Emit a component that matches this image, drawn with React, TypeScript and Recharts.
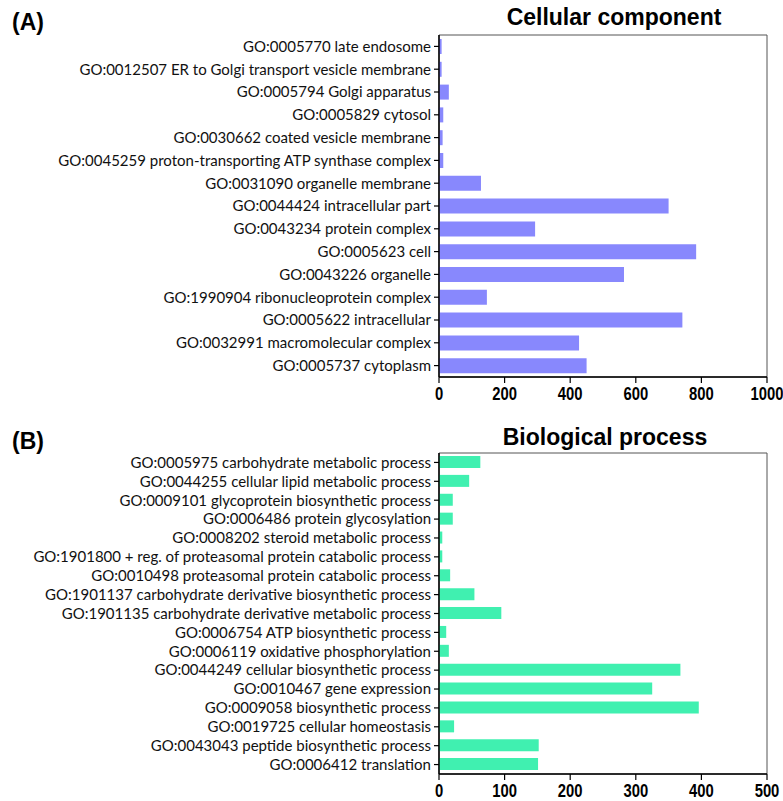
import React from "react";
import { BarChart, Bar, XAxis, YAxis, ReferenceArea } from "recharts";

const ccCategories = [
  "GO:0005770 late endosome",
  "GO:0012507 ER to Golgi transport vesicle membrane",
  "GO:0005794 Golgi apparatus",
  "GO:0005829 cytosol",
  "GO:0030662 coated vesicle membrane",
  "GO:0045259 proton-transporting ATP synthase complex",
  "GO:0031090 organelle membrane",
  "GO:0044424 intracellular part",
  "GO:0043234 protein complex",
  "GO:0005623 cell",
  "GO:0043226 organelle",
  "GO:1990904 ribonucleoprotein complex",
  "GO:0005622 intracellular",
  "GO:0032991 macromolecular complex",
  "GO:0005737 cytoplasm",
];
const ccValues = [8, 8, 30, 13, 11, 13, 128, 700, 293, 784, 564, 146, 742, 427, 450];
const ccTicks = [0, 200, 400, 600, 800, 1000];

const bpCategories = [
  "GO:0005975 carbohydrate metabolic process",
  "GO:0044255 cellular lipid metabolic process",
  "GO:0009101 glycoprotein biosynthetic process",
  "GO:0006486 protein glycosylation",
  "GO:0008202 steroid metabolic process",
  "GO:1901800 + reg. of proteasomal protein catabolic process",
  "GO:0010498 proteasomal protein catabolic process",
  "GO:1901137 carbohydrate derivative biosynthetic process",
  "GO:1901135 carbohydrate derivative metabolic process",
  "GO:0006754 ATP biosynthetic process",
  "GO:0006119 oxidative phosphorylation",
  "GO:0044249 cellular biosynthetic process",
  "GO:0010467 gene expression",
  "GO:0009058 biosynthetic process",
  "GO:0019725 cellular homeostasis",
  "GO:0043043 peptide biosynthetic process",
  "GO:0006412 translation",
];
const bpValues = [63, 46, 21, 21, 5, 5, 17, 54, 95, 11, 15, 368, 325, 396, 23, 152, 151];
const bpTicks = [0, 100, 200, 300, 400, 500];

const ccData = ccCategories.map((name, i) => ({ name, value: ccValues[i] }));
const bpData = bpCategories.map((name, i) => ({ name, value: bpValues[i] }));

const labelFont = "Lato, 'Open Sans', sans-serif";
const titleFont = "'Liberation Sans', Arial, sans-serif";

function NarrowTick(props: any) {
  const { x, y, payload } = props;
  return (
    <g transform={`translate(${x},${y})`}>
      <text
        x={0}
        y={0}
        dy={14}
        textAnchor="middle"
        transform="scale(0.78,1)"
        fill="#000"
        style={{ fontFamily: titleFont, fontWeight: 700, fontSize: 19 }}
      >
        {payload.value}
      </text>
    </g>
  );
}

function Panel({
  data,
  ticks,
  max,
  color,
  top,
  height,
  marginTop,
  barSize,
}: {
  data: { name: string; value: number }[];
  ticks: number[];
  max: number;
  color: string;
  top: number;
  height: number;
  marginTop: number;
  barSize: number;
}) {
  return (
    <div style={{ position: "absolute", left: 0, top, width: 783, height }}>
      <BarChart
        width={783}
        height={height}
        data={data}
        layout="vertical"
        margin={{ top: marginTop, right: 16, bottom: 0, left: 0 }}
      >
        <ReferenceArea
          x1={0}
          x2={max}
          fill="none"
          stroke="#555"
          strokeWidth={1}
          ifOverflow="visible"
        />
        <XAxis
          type="number"
          domain={[0, max]}
          ticks={ticks}
          interval={0}
          height={27}
          tickSize={6}
          tickMargin={3}
          axisLine={{ stroke: "#000", strokeWidth: 1.5 }}
          tickLine={{ stroke: "#000", strokeWidth: 1.2 }}
          tick={<NarrowTick />}
        />
        <YAxis
          type="category"
          dataKey="name"
          width={439}
          interval={0}
          tickSize={5}
          tickMargin={3}
          axisLine={{ stroke: "#000", strokeWidth: 1.5 }}
          tickLine={{ stroke: "#000", strokeWidth: 1.2 }}
          tick={{ fill: "#111", fontSize: 15, fontFamily: labelFont }}
        />
        <Bar dataKey="value" fill={color} barSize={barSize} isAnimationActive={false} />
      </BarChart>
    </div>
  );
}

export default function App() {
  return (
    <div
      style={{
        position: "absolute",
        left: 0,
        top: 0,
        width: 783,
        height: 801,
        background: "#fff",
        overflow: "hidden",
      }}
    >
      <div
        style={{
          position: "absolute",
          left: 12,
          top: 8,
          fontFamily: titleFont,
          fontWeight: 700,
          fontSize: 23,
          color: "#000",
          lineHeight: "28px",
        }}
      >
        (A)
      </div>
      <div
        style={{
          position: "absolute",
          left: 439,
          width: 350,
          top: 3,
          textAlign: "center",
          fontFamily: titleFont,
          fontWeight: 700,
          fontSize: 23,
          color: "#000",
          lineHeight: "28px",
        }}
      >
        Cellular component
      </div>
      <Panel
        data={ccData}
        ticks={ccTicks}
        max={1000}
        color="#8888fd"
        top={0}
        height={404}
        marginTop={35}
        barSize={15}
      />
      <div
        style={{
          position: "absolute",
          left: 12,
          top: 427,
          fontFamily: titleFont,
          fontWeight: 700,
          fontSize: 23,
          color: "#000",
          lineHeight: "28px",
        }}
      >
        (B)
      </div>
      <div
        style={{
          position: "absolute",
          left: 440,
          width: 330,
          top: 423,
          textAlign: "center",
          fontFamily: titleFont,
          fontWeight: 700,
          fontSize: 23,
          color: "#000",
          lineHeight: "28px",
        }}
      >
        Biological process
      </div>
      <Panel
        data={bpData}
        ticks={bpTicks}
        max={500}
        color="#40f0b0"
        top={420}
        height={381}
        marginTop={33}
        barSize={12}
      />
    </div>
  );
}
